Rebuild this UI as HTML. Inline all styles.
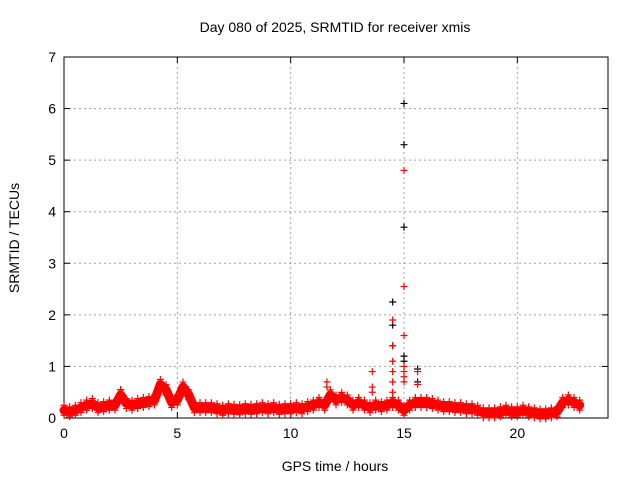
<!DOCTYPE html>
<html><head><meta charset="utf-8"><style>
body{margin:0;background:#fff;}
svg{display:block;font-family:"Liberation Sans",sans-serif;}
</style></head><body>
<svg width="640" height="480" viewBox="0 0 640 480">
<g id="grid"></g>
<g id="axes"></g>
<g id="marks"></g>
<text x="335" y="32" font-size="14" text-anchor="middle">Day 080 of 2025, SRMTID for receiver xmis</text>
<text x="335" y="471" font-size="14" text-anchor="middle">GPS time / hours</text>
<text transform="translate(19,238) rotate(-90)" font-size="14" text-anchor="middle">SRMTID / TECUs</text>
</svg>
<script>
const xTicks=[0,5,10,15,20];
const yTicks=[0,1,2,3,4,5,6,7];
const baseStep=0.25;
const baseline=[0.15,0.12,0.15,0.2,0.25,0.28,0.2,0.22,0.25,0.25,0.45,0.28,0.25,0.28,0.3,0.32,0.35,0.65,0.55,0.3,0.35,0.6,0.45,0.2,0.2,0.2,0.2,0.18,0.15,0.18,0.17,0.16,0.18,0.17,0.18,0.2,0.18,0.2,0.17,0.18,0.18,0.2,0.18,0.22,0.25,0.3,0.25,0.45,0.35,0.4,0.35,0.25,0.3,0.25,0.2,0.25,0.22,0.25,0.3,0.25,0.15,0.25,0.3,0.3,0.3,0.28,0.25,0.22,0.22,0.2,0.2,0.18,0.18,0.15,0.1,0.1,0.1,0.12,0.15,0.12,0.12,0.15,0.12,0.1,0.08,0.08,0.1,0.12,0.3,0.35,0.3,0.25];
const redSpikeX=[2.5,11.6,11.6,13.6,13.6,13.6,14.5,14.5,14.5,14.5,14.5,14.5,15.0,15.0,15.0,15.0,15.0,15.0,15.0,15.6,15.6];
const redSpikeY=[0.55,0.7,0.6,0.9,0.6,0.5,1.9,1.4,1.1,0.9,0.7,0.5,4.8,2.55,1.6,1.0,0.9,0.8,0.7,0.9,0.65];
const blackX=[14.5,14.5,14.5,15.0,15.0,15.0,15.0,15.0,15.6,15.6];
const blackY=[2.25,1.8,1.4,6.1,5.3,3.7,1.2,1.1,0.95,0.7];
const L=64,R=608,T=57,B=418,XMAX=24,YMAX=7;
const sx=v=>L+v*(R-L)/XMAX, sy=v=>B-v*(B-T)/YMAX;
const NS="http://www.w3.org/2000/svg";
function mk(t,a,p){const e=document.createElementNS(NS,t);for(const k in a)e.setAttribute(k,a[k]);p.appendChild(e);return e;}
const grid=document.getElementById('grid'),axes=document.getElementById('axes'),marks=document.getElementById('marks');
xTicks.forEach(v=>{const x=sx(v);
 if(v>0){const g=mk('line',{x1:x,x2:x,y1:T,y2:B,stroke:'#a0a0a0','stroke-dasharray':'2,3'},grid);
 
 }
 mk('line',{x1:x,x2:x,y1:B,y2:B-6,stroke:'#000'},axes);
 mk('line',{x1:x,x2:x,y1:T,y2:T+6,stroke:'#000'},axes);
 const t=mk('text',{x:x,y:B+20,'font-size':14,'text-anchor':'middle'},axes);t.textContent=v;
 
 });
yTicks.forEach(v=>{const y=sy(v);
 if(v>0&&v<7){const g=mk('line',{x1:L,x2:R,y1:y,y2:y,stroke:'#a0a0a0','stroke-dasharray':'2,3'},grid);
 
 }
 mk('line',{x1:L,x2:L+6,y1:y,y2:y,stroke:'#000'},axes);
 mk('line',{x1:R,x2:R-6,y1:y,y2:y,stroke:'#000'},axes);
 const t=mk('text',{x:L-8,y:y+5,'font-size':14,'text-anchor':'end'},axes);t.textContent=v;
 
 });
const fr=mk('rect',{x:L,y:T,width:R-L,height:B-T,fill:'none',stroke:'#000'},axes);


function cross(x,y,c,name){const g=mk('path',{d:`M${x-3.5},${y}h7M${x},${y-3.5}v7`,stroke:c,'stroke-width':1.2},marks);
 
 }
blackX.forEach((v,i)=>cross(sx(v),sy(blackY[i]),'#000','black-point'));
const pts=baseline.map((v,i)=>sx(i*baseStep)+','+sy(v)).join(' ');
const band=mk('polyline',{points:pts,fill:'none',stroke:'#ff0000','stroke-width':9,'stroke-linejoin':'round','stroke-linecap':'round'},marks);


baseline.forEach((v,i)=>{cross(sx(i*baseStep),sy(v)-5,'#ff0000','red-point');cross(sx(i*baseStep),sy(v)+5,'#ff0000','red-point');});
redSpikeX.forEach((v,i)=>cross(sx(v),sy(redSpikeY[i]),'#ff0000','red-spike-point'));
</script>
</body></html>
